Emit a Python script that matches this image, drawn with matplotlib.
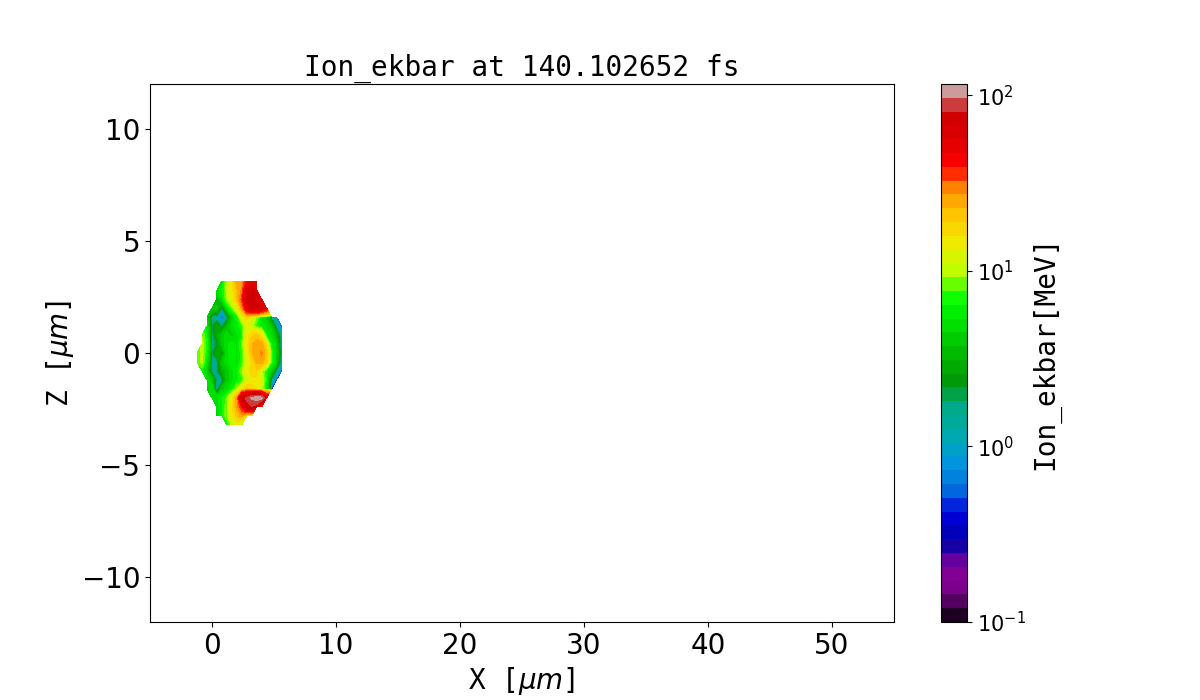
import numpy as np
import matplotlib
matplotlib.use("Agg")
import matplotlib.pyplot as plt
from matplotlib.colors import LogNorm

N = np.nan

# grid coordinates (micrometres)
x_um = [-1.2, -0.8, -0.4, 0.0, 0.4, 0.8, 1.2, 1.6, 2.0, 2.4, 2.8, 3.2, 3.6, 4.0, 4.4, 4.8, 5.2, 5.6]
z_um = [3.2, 2.8, 2.4, 2.0, 1.6, 1.2, 0.8, 0.4, 0.0, -0.4, -0.8, -1.2, -1.6, -2.0, -2.4, -2.8, -3.2]

# mean ion energy (MeV), NaN = empty
ekbar = [
    [N, N, N, N, N, 5, 10, 15, 25, 25, 40, 50, 50, N, N, N, N, N],
    [N, N, N, N, 5, 6, 10, 14, 22, 28, 60, 70, 60, N, N, N, N, N],
    [N, N, N, N, 3, 5, 9, 13, 20, 35, 70, 75, 70, 60, N, N, N, N],
    [N, N, N, 4, 4, 1.5, 5, 8, 12, 25, 50, 65, 70, 60, 45, N, N, N],
    [N, N, 4, 1.5, 1.2, 0.4, 1.3, 4, 6, 12, 18, 12, 9, 5, 4, 1.5, 0.8, N],
    [N, N, 5, 1.8, 3, 1.5, 3.5, 5, 6, 7, 12, 10, 7, 6, 5, 4, 1.5, 0.5],
    [N, 9, 6, 1.5, 3, 4, 5, 4, 5, 6, 14, 18, 20, 15, 6, 5, 3, 1.2],
    [N, 10, 7, 1.5, 2, 4, 5, 6, 5, 8, 14, 22, 26, 25, 14, 6, 4, 1.3],
    [8, 10, 6, 1.8, 3, 2, 5, 6, 5, 7, 13, 22, 25, 28, 20, 7, 4, 1.5],
    [8, 10, 5, 1.5, 1.5, 4, 5, 6, 5, 7, 12, 16, 24, 26, 18, 7, 4, 1.2],
    [N, 6, 4, 1.5, 1.8, 3, 4, 5, 6, 9, 13, 18, 18, 10, 6, 4, 1.5, 0.5],
    [N, N, 5, 4, 1.3, 1.5, 4, 5, 6, 7, 12, 14, 15, 12, 6, 1.5, 0.4, N],
    [N, N, 4, 5, 0.8, 4, 5, 6, 9, 14, 20, 18, 15, 10, 5, 0.5, N, N],
    [N, N, N, 5, 5, 6, 8, 14, 25, 70, 85, 100, 110, 105, 60, N, N, N],
    [N, N, N, N, 5, 6, 9, 15, 25, 40, 75, 80, 70, 30, N, N, N, N],
    [N, N, N, N, 4, 6, 9, 14, 20, 25, 12, 8, N, N, N, N, N, N],
    [N, N, N, N, N, N, 6, 10, 14, 8, N, N, N, N, N, N, N, N],
]

vmin, vmax = 0.1, 116.0
n_levels = 40
cbar_ticks = [0.1, 1, 10, 100]

mono = "DejaVu Sans Mono"

fig = plt.figure(figsize=(12, 7), dpi=100)
ax = fig.add_axes([0.125, 0.1114, 0.62, 0.7686])
cax = fig.add_axes([0.7842, 0.1114, 0.0217, 0.7686])

X, Z = np.meshgrid(np.array(x_um), np.array(z_um))
data = np.ma.masked_invalid(np.array(ekbar, dtype=float))
levels = np.logspace(np.log10(vmin), np.log10(vmax), n_levels)
cs = ax.contourf(X, Z, data, levels=levels, cmap="nipy_spectral",
                 norm=LogNorm(vmin=vmin, vmax=vmax))

ax.set_xlim(-5, 55)
ax.set_ylim(-12, 12)
ax.set_xticks([0, 10, 20, 30, 40, 50])
ax.set_yticks([-10, -5, 0, 5, 10])
ax.tick_params(labelsize=20)
ax.set_title("Ion_ekbar at 140.102652 fs", fontsize=20, family=mono)
ax.set_xlabel(r"X [$\mu m$]", fontsize=20, family=mono)
ax.set_ylabel(r"Z [$\mu m$]", fontsize=20, family=mono)

cb = fig.colorbar(cs, cax=cax)
cb.set_ticks(cbar_ticks)
cb.ax.minorticks_off()
cb.ax.tick_params(labelsize=15)
cb.set_label("Ion_ekbar[MeV]", fontsize=20, family=mono)

fig.savefig("out.png", dpi=100)
